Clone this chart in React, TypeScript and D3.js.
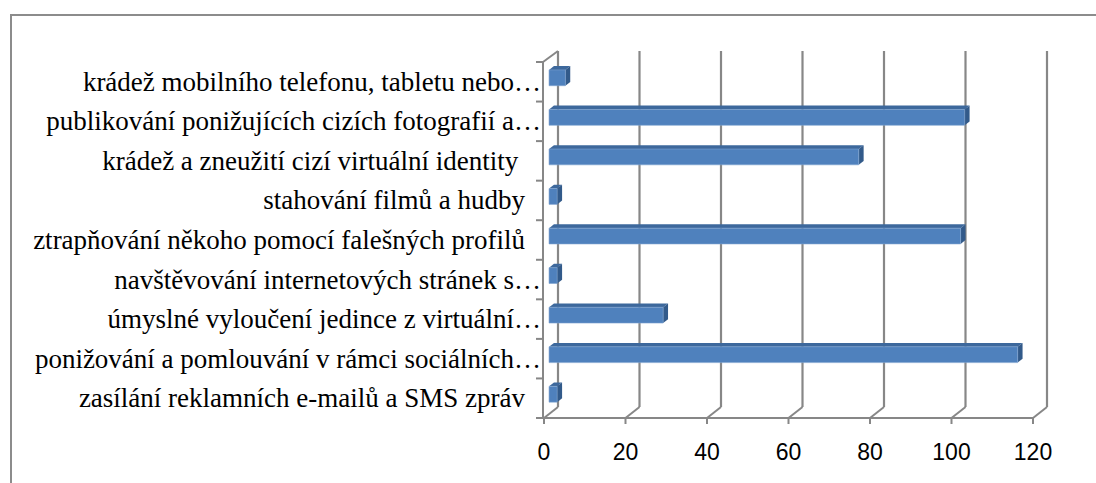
import React from "react";
import * as d3 from "d3";

const categories = [
  "krádež mobilního telefonu, tabletu nebo…",
  "publikování ponižujících cizích fotografií a…",
  "krádež a zneužití cizí virtuální identity ",
  "stahování filmů a hudby",
  "ztrapňování někoho pomocí falešných profilů",
  "navštěvování internetových stránek s…",
  "úmyslné vyloučení jedince z virtuální…",
  "ponižování a pomlouvání v rámci sociálních…",
  "zasílání reklamních e-mailů a SMS zpráv",
];
const values = [4, 102, 76, 2, 101, 2, 28, 115, 2];
const ticks = [0, 20, 40, 60, 80, 100, 120];

const W = 1096;
const H = 483;
const DX = 14;
const DY = -11;
const Z0 = 0.36;
const Z1 = 0.71;

export default function App() {
  const x = d3.scaleLinear().domain([0, 120]).range([544, 1033]);
  const y = d3.scaleBand<string>().domain(categories).range([62, 418]).padding(0);
  const bw = y.bandwidth();
  const yTop = 62;
  const yBot = 418;
  const proj = (v: number, yy: number, z: number): [number, number] => [x(v) + z * DX, yy + z * DY];
  const poly = (pts: [number, number][]) => pts.map((p) => p.join(",")).join(" ");
  const grid = "#878787";

  return (
    <svg width={W} height={H} style={{ position: "absolute", left: 0, top: 0, background: "#fff" }}>
      <rect x={11} y={15} width={1100} height={480} fill="#fff" stroke="#8c8c8c" strokeWidth={2} />
      {ticks.map((t) => {
        const [bx, by0] = proj(t, yTop, 1);
        const [, by1] = proj(t, yBot, 1);
        return <line key={"g" + t} x1={bx} y1={by0} x2={bx} y2={by1} stroke={grid} strokeWidth={2.2} />;
      })}
      {ticks.map((t) => {
        const [fx, fy] = proj(t, yBot, 0);
        const [bx, by] = proj(t, yBot, 1);
        return <line key={"d" + t} x1={fx} y1={fy} x2={bx} y2={by} stroke={grid} strokeWidth={2} />;
      })}
      {(() => {
        const [fx, fy] = proj(0, yTop, 0);
        const [bx, by] = proj(0, yTop, 1);
        return <line x1={fx - 1} y1={fy} x2={bx} y2={by} stroke={grid} strokeWidth={2} />;
      })()}
      <line x1={x(0) - 1} y1={yBot} x2={x(120)} y2={yBot} stroke={grid} strokeWidth={2} />
      {ticks.map((t) => (
        <line key={"t" + t} x1={x(t)} y1={yBot} x2={x(t)} y2={yBot + 6} stroke={grid} strokeWidth={2} />
      ))}
      <line x1={x(0) - 1} y1={yTop} x2={x(0) - 1} y2={yBot} stroke={grid} strokeWidth={2} />
      {d3.range(categories.length + 1).map((i) => {
        const yy = yTop + i * bw;
        return <line key={"c" + i} x1={x(0) - 8} y1={yy} x2={x(0) - 1} y2={yy} stroke={grid} strokeWidth={2} />;
      })}
      {categories.map((c, i) => {
        const v = values[i];
        const b = y(c)!;
        const yt = b + bw * 0.3;
        const yb = b + bw * 0.7;
        const front = poly([proj(0, yt, Z0), proj(v, yt, Z0), proj(v, yb, Z0), proj(0, yb, Z0)]);
        const top = poly([proj(0, yt, Z0), proj(v, yt, Z0), proj(v, yt, Z1), proj(0, yt, Z1)]);
        const side = poly([proj(v, yt, Z0), proj(v, yt, Z1), proj(v, yb, Z1), proj(v, yb, Z0)]);
        return (
          <g key={"b" + i}>
            <polygon points={top} fill="#3d689c" />
            <polygon points={side} fill="#325a8a" />
            <polygon points={front} fill="#4f81bd" stroke="#7ea3d0" strokeWidth={0.6} />
          </g>
        );
      })}
      {categories.map((c) => (
        <text
          key={"l" + c}
          x={c.endsWith("…") ? 541 : 525}
          y={y(c)! + bw / 2 + 9}
          textAnchor="end"
          fontFamily="'Liberation Serif', 'Times New Roman', serif"
          fontSize={27}
          fill="#000"
          style={{ whiteSpace: "pre" }}
        >
          {c}
        </text>
      ))}
      {ticks.map((t) => (
        <text
          key={"v" + t}
          x={x(t)}
          y={460}
          textAnchor="middle"
          fontFamily="'Liberation Sans', Arial, sans-serif"
          fontSize={23}
          fill="#000"
        >
          {t}
        </text>
      ))}
    </svg>
  );
}
